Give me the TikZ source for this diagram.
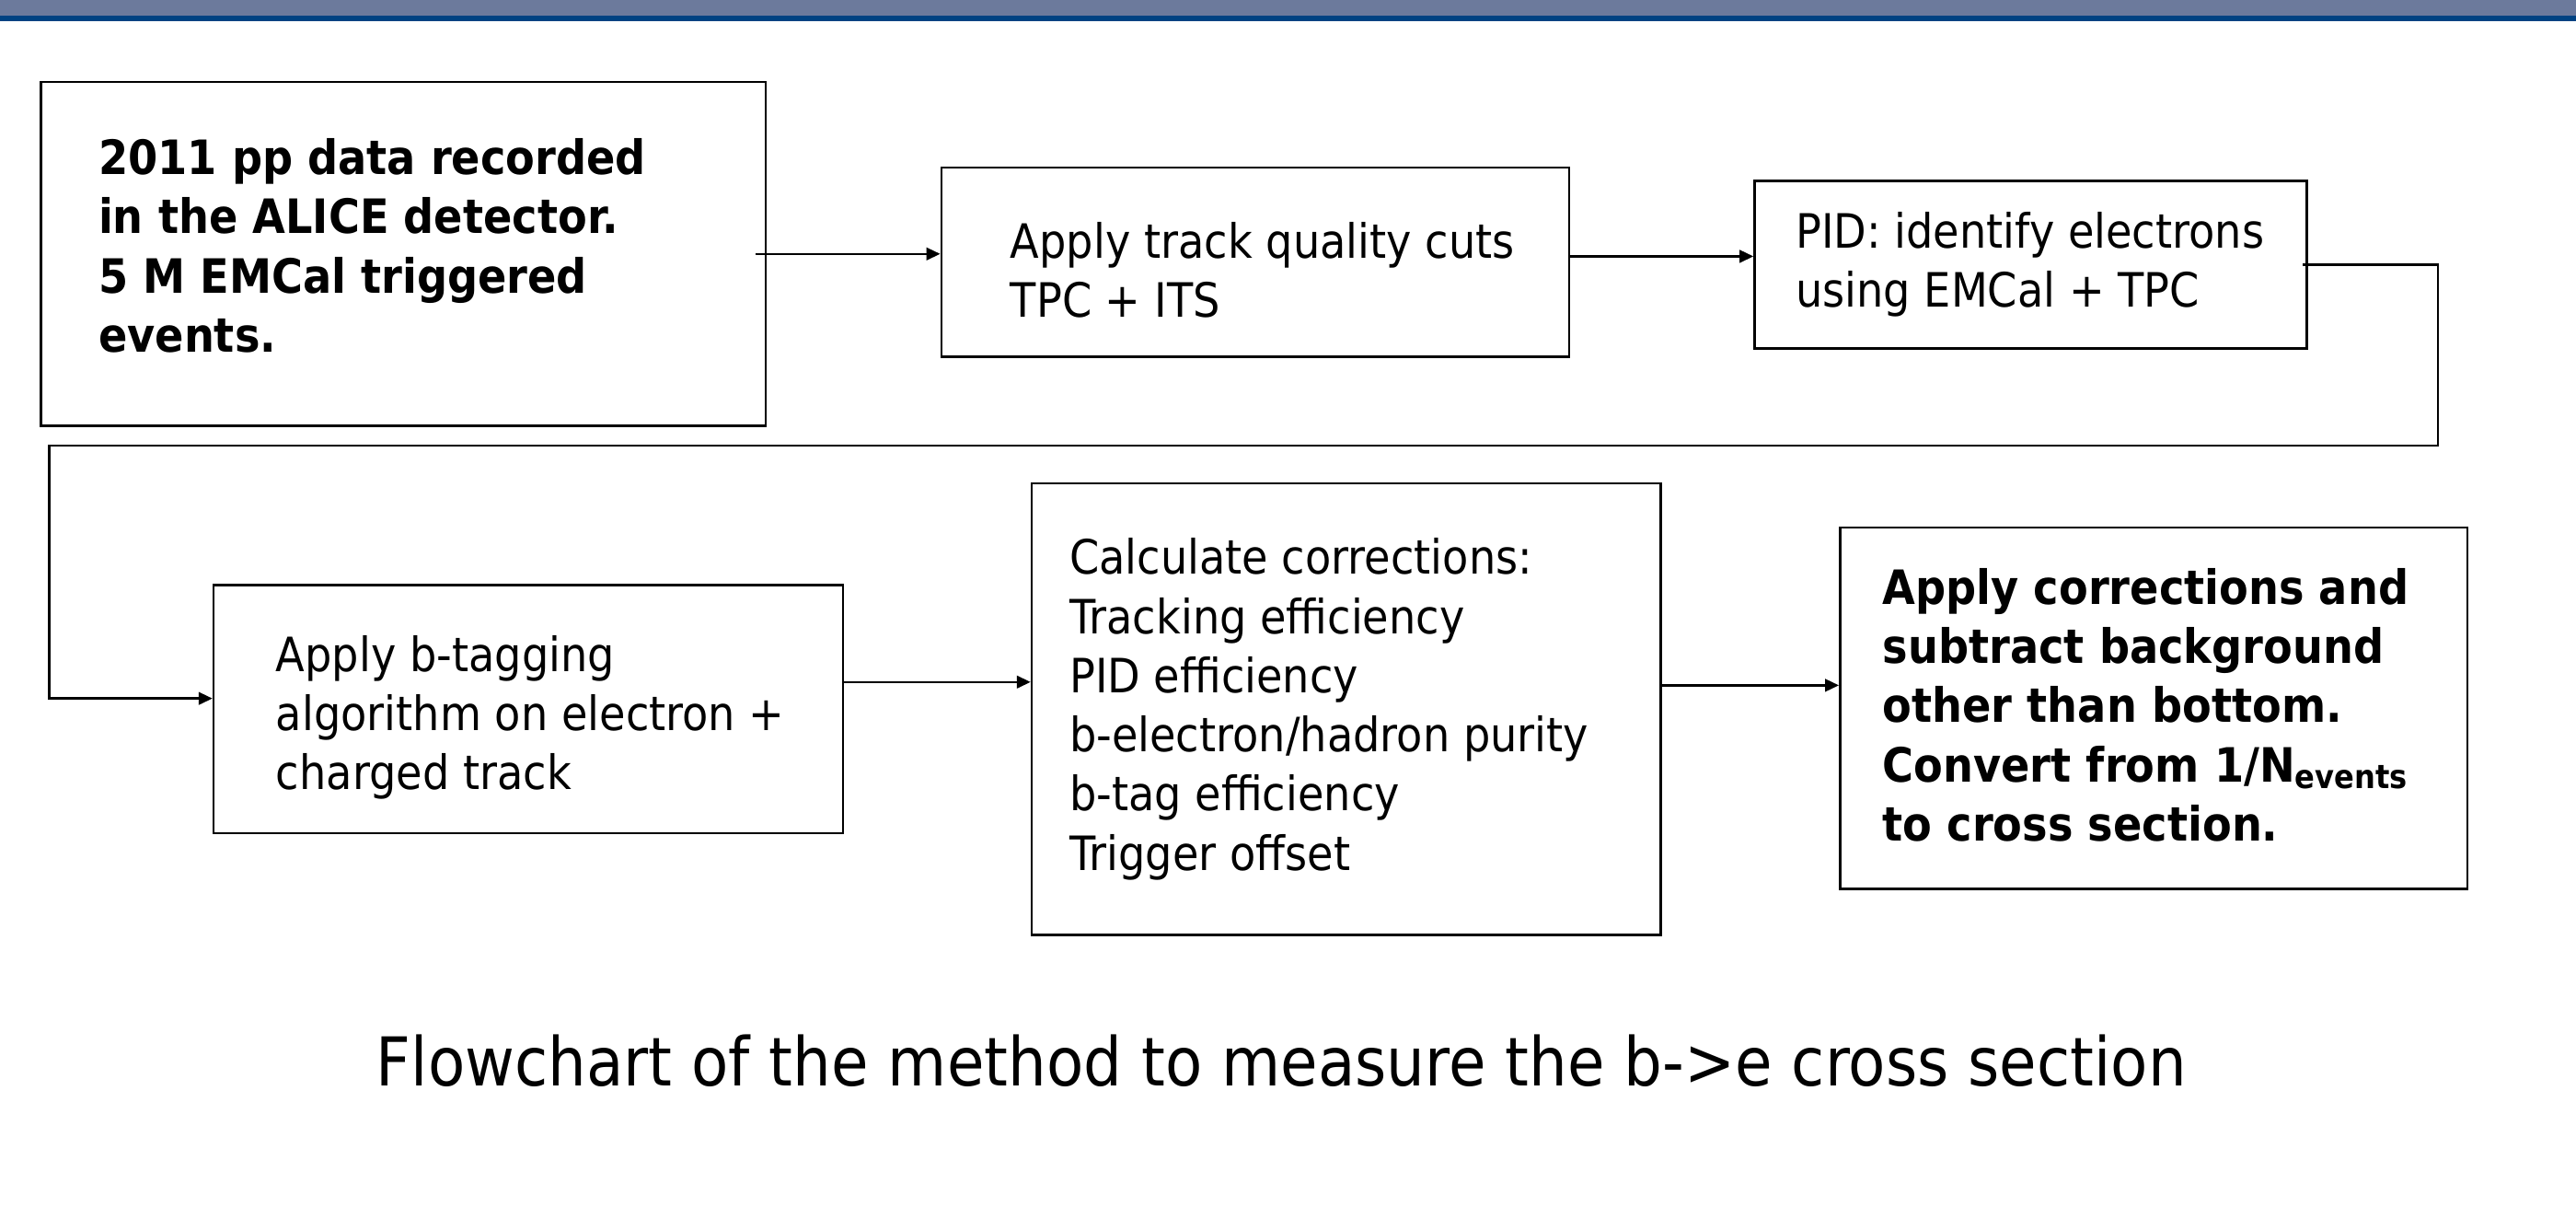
\documentclass[tikz,border=0pt]{standalone}
\usepackage{fontspec}
\setmainfont{DejaVu Sans}[FakeStretch=0.9]
\usetikzlibrary{arrows.meta,positioning}
\tikzset{every picture/.style={line width=0.7pt}}

\definecolor{barslate}{RGB}{108,122,156}
\definecolor{barnavy}{RGB}{0,66,130}

\tikzset{
  stage/.style={draw, rectangle, inner sep=0pt},
  stagetext/.style={anchor=west, align=left, inner sep=0pt, font=\fontsize{14.4}{18}\selectfont},
  stagebold/.style={stagetext, font=\fontsize{14.4}{18}\selectfont\bfseries},
  flow/.style={-{Triangle[length=4.2pt,width=3.8pt]}},
}

\begin{document}
\begin{tikzpicture}[x=0.5pt,y=0.5pt,yscale=-1,xscale=1]
\useasboundingbox (0,0) rectangle (1568,748);

%Shape: Rectangle (title bar)
\fill[barslate] (0,0) rectangle (1568,9.6);
\fill[barnavy] (0,9.8) rectangle (1568,13);

%Shape: Rectangle [boxes]
\node[stage, minimum width=220.5pt, minimum height=104.5pt] (data) at (245.5,154.5) {};
\node[stage, minimum width=191pt, minimum height=57.5pt] (cuts) at (764,159.5) {};
\node[stage, minimum width=168pt, minimum height=51pt] (pid) at (1236,161) {};
\node[stage, minimum width=191.5pt, minimum height=75.5pt] (btag) at (321.5,431.5) {};
\node[stage, minimum width=191.5pt, minimum height=137.5pt] (corr) at (819.5,431.5) {};
\node[stage, minimum width=191pt, minimum height=110pt] (result) at (1311,431) {};

% Text Node
\node[stagebold, right=17.5pt of data.west, yshift=2.5pt] (datatext) {2011 pp data recorded\\in the ALICE detector.\\5 M EMCal triggered\\events.};
% Text Node
\node[stagetext, right=21pt of cuts.west, yshift=-2.5pt] (cutstext) {Apply track quality cuts\\TPC + ITS};
% Text Node
\node[stagetext, right=12.5pt of pid.west] (pidtext) {PID: identify electrons\\using EMCal + TPC};
% Text Node
\node[stagetext, right=19pt of btag.west, yshift=-2.5pt] (btagtext) {Apply b-tagging\\algorithm on electron +\\charged track};
% Text Node
\node[stagetext, right=11.5pt of corr.west] (corrtext) {Calculate corrections:\\Tracking efficiency\\PID efficiency\\b-electron/hadron purity\\b-tag efficiency\\Trigger offset};
% Text Node
\node[stagebold, right=13pt of result.west, yshift=1pt] (resulttext) {Apply corrections and\\subtract background\\other than bottom.\\Convert from 1/N\textsubscript{events}\\to cross section.};

%Straight Lines
\draw[flow] ([xshift=-3.5pt]data.east) -- (data.east -| cuts.west);
\draw[flow] ([yshift=-1.75pt]cuts.east) -- ([yshift=-1.75pt]cuts.east -| pid.west);
% return line down to the second row
\coordinate (turnR) at (1484,271);
\coordinate (turnL) at (30,271);
\draw[flow] ([xshift=-1.5pt]pid.east) -| (turnR) -- (turnL) |- ([yshift=-3.25pt]btag.west);
\draw[flow] ([yshift=-8.25pt]btag.east) -- ([yshift=-8.25pt]btag.east -| corr.west);
\draw[flow] ([yshift=-7.25pt]corr.east) -- ([yshift=-7.25pt]corr.east -| result.west);

% Text Node
\node[anchor=base, inner sep=0pt, font=\fontsize{20.5}{24}\selectfont] (caption) at (780,660.5) {Flowchart of the method to measure the b->e cross section};

\end{tikzpicture}
\end{document}
